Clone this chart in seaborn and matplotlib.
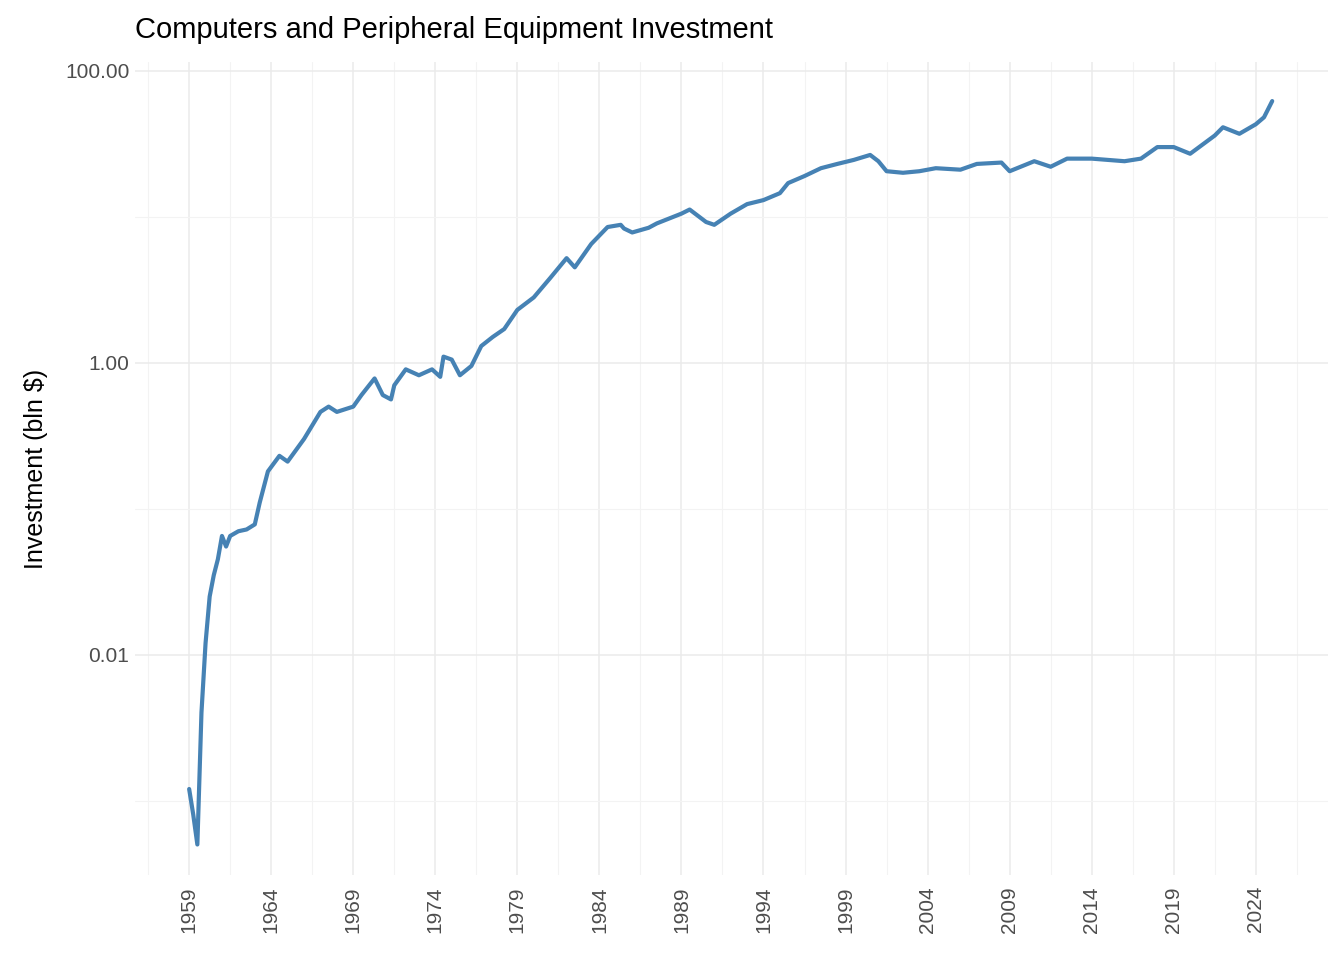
import matplotlib
matplotlib.use("Agg")
import matplotlib.pyplot as plt
import seaborn as sns
import pandas as pd
import numpy as np
from matplotlib.ticker import FixedLocator, FixedFormatter

years = [1959.0,1959.25,1959.5,1959.75,1960.0,1960.25,1960.5,1960.75,1961.0,1961.25,1961.5,1962.0,1962.5,1963.0,
         1963.3,1963.8,1964.5,1965.0,1966.0,1967.0,1967.5,1968.0,1969.0,1969.5,1970.3,1970.8,1971.3,1971.5,
         1972.2,1973.0,1973.8,1974.3,1974.5,1975.0,1975.5,1976.2,1976.8,1977.5,1978.2,1979.0,1980.0,1981.0,
         1982.0,1982.5,1983.5,1984.5,1985.3,1985.5,1986.0,1987.0,1987.5,1989.0,1989.5,1990.5,1991.0,1992.0,
         1993.0,1994.0,1995.0,1995.5,1996.5,1997.5,1998.5,1999.5,2000.5,2001.0,2001.5,2002.5,2003.5,2004.5,
         2006.0,2007.0,2008.5,2009.0,2010.5,2011.5,2012.5,2014.0,2016.0,2017.0,2018.0,2019.0,2020.0,2021.5,
         2022.0,2023.0,2024.0,2024.5,2025.0]
values = [0.0012,0.0008,0.0005,0.004,0.012,0.025,0.035,0.045,0.065,0.055,0.065,0.07,0.072,0.078,
          0.11,0.18,0.23,0.21,0.3,0.46,0.5,0.46,0.5,0.6,0.78,0.6,0.56,0.7,
          0.9,0.82,0.9,0.8,1.1,1.05,0.82,0.95,1.3,1.5,1.7,2.3,2.8,3.8,
          5.2,4.5,6.5,8.5,8.8,8.3,7.8,8.4,9.0,10.5,11.2,9.2,8.8,10.5,
          12.2,13.0,14.5,17.0,19.0,21.5,23.0,24.5,26.5,24.0,20.5,20.0,20.5,21.5,
          21.0,23.0,23.5,20.5,24.0,22.0,25.0,25.0,24.0,25.0,30.0,30.0,27.0,36.0,
          41.0,37.0,43.0,48.0,62.0]

df = pd.DataFrame({"year": years, "value": values})

sns.set_theme(style="white")
plt.rcParams['font.family'] = ['Liberation Sans', 'DejaVu Sans']
fig = plt.figure(figsize=(13.44, 9.6), dpi=100)
ax = fig.add_axes([135/1344, 85/960, (1328-135)/1344, (875-62)/960])
sns.lineplot(data=df, x="year", y="value", ax=ax, color="steelblue", linewidth=3.0)
ax.set_yscale("log")
ax.set_xlim(1955.7, 2028.4)
ax.set_ylim(10**-3.51, 10**2.06)

major_x = list(range(1959, 2025, 5))
minor_x = [y + 2.5 for y in range(1954, 2029, 5)]
ax.xaxis.set_major_locator(FixedLocator(major_x))
ax.xaxis.set_minor_locator(FixedLocator(minor_x))
ax.set_xticklabels([str(y) for y in major_x], rotation=90)
ax.yaxis.set_major_locator(FixedLocator([0.01, 1, 100]))
ax.yaxis.set_major_formatter(FixedFormatter(["0.01", "1.00", "100.00"]))
ax.yaxis.set_minor_locator(FixedLocator([0.001, 0.1, 10]))
ax.yaxis.set_minor_formatter(FixedFormatter(["", "", ""]))
ax.grid(which="major", color="#ebebeb", linewidth=1.1)
ax.grid(which="minor", color="#f3f3f3", linewidth=0.8)
ax.set_axisbelow(True)
for s in ax.spines.values():
    s.set_visible(False)
ax.tick_params(axis="both", which="both", length=0, labelsize=15, colors="#4d4d4d", pad=4)
ax.tick_params(axis="x", which="major", length=4, color="#333333")
ax.set_xlabel("")
ax.set_ylabel("Investment (bln $)", fontsize=18, color="black", labelpad=12)
fig.text(135/1344, 1 - 30/960, "Computers and Peripheral Equipment Investment", fontsize=21, va="center", ha="left", color="black")
fig.savefig("out.png", dpi=100)
